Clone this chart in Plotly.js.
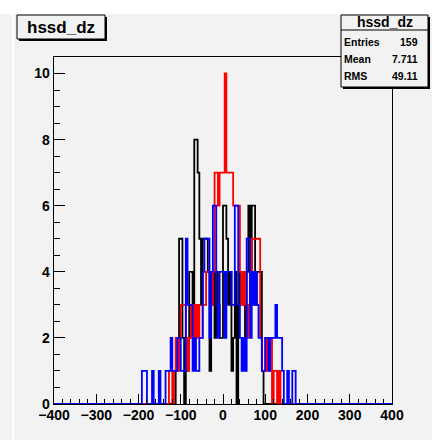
<!DOCTYPE html>
<html><head><meta charset="utf-8">
<script src="https://cdn.plot.ly/plotly-3.0.1.min.js"></script>
<style>html,body{margin:0;padding:0;background:#f2f2f2;}#c{width:432px;height:440px;}</style>
</head><body><div id="c"></div>
<script>
// Histogram binning (lower edges, bin width 4)
const binWidth = 4;
const xMin = -400, xMax = 400;

// Black histogram (hssd_dz)
const blackEdges  = [-112,-108,-104,-100,-96,-88,-84,-80,-76,-72,-68,-64,-60,-56,-52,-48,-44,-40,-36,-32,-28,-24,-20,-16,-12,-8,-4,0,4,8,12,16,20,24,28,36,40,44,48,52,56,60,64,68,72,76,80,84,88,92];
const blackCounts = [1,2,5,5,2,1,2,4,4,2,8,8,7,5,3,5,5,5,4,1,3,4,2,4,3,2,2,6,6,5,3,4,1,2,4,3,4,4,3,2,4,6,3,6,6,3,4,4,4,1];

// Red histogram
const redEdges  = [-128,-124,-116,-112,-108,-104,-100,-96,-92,-88,-84,-80,-76,-72,-68,-64,-60,-56,-52,-48,-44,-40,-36,-32,-28,-24,-20,-16,-12,-8,-4,0,4,8,12,16,20,24,28,32,36,40,44,48,52,56,60,64,68,72,76,80,84,88,92,96,100,104,108,112,120,124,132];
const redCounts = [1,1,1,2,1,2,3,3,3,2,1,2,3,2,3,2,3,2,2,3,3,4,4,4,3,4,7,7,6,7,7,7,10,7,7,7,7,6,6,6,6,4,3,4,3,2,3,4,5,5,5,5,5,2,1,1,2,1,2,2,1,1,1];

// Blue histogram
const blueEdges  = [-192,-188,-184,-168,-152,-136,-132,-128,-124,-120,-116,-112,-108,-104,-100,-96,-92,-88,-84,-80,-76,-72,-68,-64,-60,-56,-52,-48,-44,-40,-36,-32,-28,-24,-20,-16,-12,-8,-4,0,4,8,12,16,20,24,28,32,36,40,44,48,52,56,60,64,68,72,76,80,84,88,92,96,100,104,108,112,116,120,124,128,132,136,140,152,164,168];
const blueCounts = [1,1,1,1,1,1,1,1,2,1,1,1,2,2,1,1,1,5,3,3,3,1,2,1,1,2,2,4,5,5,5,2,4,6,6,3,2,4,4,4,2,4,4,4,3,3,6,6,3,2,1,2,1,5,5,2,4,3,4,3,2,2,1,1,2,2,1,2,2,2,3,2,2,2,1,1,1,1];

// Stats box text
const statsTitle = "hssd_dz";
const statsNames = ["Entries", "Mean", "RMS"];
const statsValues = ["159", "7.711", "49.11"];
const histTitle = "hssd_dz";

function stepTrace(edges, counts, color) {
  const nb = Math.round((xMax - xMin) / binWidth);
  const full = new Array(nb).fill(0);
  edges.forEach((e, i) => { full[Math.round((e - xMin) / binWidth)] = counts[i]; });
  const xs = [xMin], ys = [0];
  for (let i = 0; i < nb; i++) { xs.push(xMin + i * binWidth); ys.push(full[i]); }
  xs.push(xMax); ys.push(0);
  return {x: xs, y: ys, type: 'scatter', mode: 'lines', line: {shape: 'hv', color: color, width: 1.8}, hoverinfo: 'skip', showlegend: false};
}

const W = 432, H = 440, L = 54, R = 392, T = 57, B = 404;
const px = v => (v - L) / (R - L);
const py = v => (B - v) / (B - T);
function rect(x0, y0, x1, y1, fill, lineColor, lw) {
  return {type: 'rect', xref: 'paper', yref: 'paper', x0: px(x0), x1: px(x1), y0: py(y1), y1: py(y0),
    fillcolor: fill, line: {color: lineColor || fill, width: lw === undefined ? 0 : lw}, layer: 'above'};
}
function seg(x0, y0, x1, y1, color, w) {
  return {type: 'line', xref: 'paper', yref: 'paper', x0: px(x0), x1: px(x1), y0: py(y0), y1: py(y1), line: {color: color, width: w}, layer: 'above'};
}
function txt(x, y, s, size, xanchor) {
  return {xref: 'paper', yref: 'paper', x: px(x), y: py(y), text: s, showarrow: false, xanchor: xanchor || 'center', yanchor: 'middle',
    font: {family: 'Liberation Sans, Arial, sans-serif', size: size, color: '#000', weight: 'bold'}};
}

const font = {family: 'Liberation Sans, Arial, sans-serif', size: 14, color: '#000', weight: 'bold'};
const shapes = [
  rect(0, 0, 432, 14, '#ffffff'),
  seg(13, 14, 13, 440, '#ffffff', 2),
  rect(19, 17, 107, 41, '#000000'),
  rect(17, 15, 105, 39, '#f2f2f2', '#000000', 1),
  rect(343, 17, 430, 89, '#000000'),
  rect(341, 15, 428, 87, '#f2f2f2', '#000000', 1),
  seg(341, 30, 428, 30, '#000000', 1)
];
const annotations = [txt(61, 27, histTitle, 17), txt(385, 22.5, statsTitle, 14)];
const rowY = [42, 59, 76];
statsNames.forEach((n, i) => {
  annotations.push(txt(342, rowY[i], n, 10.5, 'left'));
  annotations.push(txt(420, rowY[i], statsValues[i], 10.5, 'right'));
});

const layout = {
  width: W, height: H,
  margin: {l: L, r: W - R, t: T, b: H - B, pad: 0},
  paper_bgcolor: '#f2f2f2', plot_bgcolor: '#f2f2f2',
  showlegend: false,
  xaxis: {range: [xMin, xMax], dtick: 100, tick0: 0, ticks: 'inside', ticklen: 10, tickwidth: 1, tickcolor: '#000',
    showline: true, linecolor: '#000', linewidth: 1.3, mirror: true, showgrid: false, zeroline: false, tickfont: font,
    ticklabelstandoff: -2,
    minor: {dtick: 20, ticks: 'inside', ticklen: 5, tickcolor: '#000', tickwidth: 1, showgrid: false}},
  yaxis: {range: [0, 10.5], dtick: 2, tick0: 0, ticks: 'inside', ticklen: 11, tickwidth: 1, tickcolor: '#000',
    showline: true, linecolor: '#000', linewidth: 1.3, mirror: true, showgrid: false, zeroline: false, tickfont: font,
    minor: {dtick: 0.5, ticks: 'inside', ticklen: 6, tickcolor: '#000', tickwidth: 1, showgrid: false}},
  shapes: shapes,
  annotations: annotations
};

Plotly.newPlot('c', [
  stepTrace(blackEdges, blackCounts, '#000000'),
  stepTrace(redEdges, redCounts, '#ff0000'),
  stepTrace(blueEdges, blueCounts, '#0000ff')
], layout, {staticPlot: true, displayModeBar: false});
</script>
</body></html>
